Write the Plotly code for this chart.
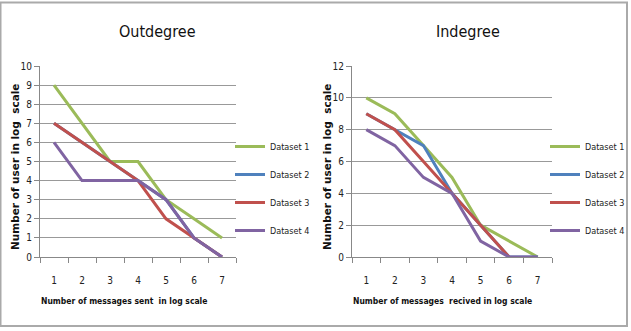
import plotly.graph_objects as go

x_vals = [1, 2, 3, 4, 5, 6, 7]
series_names = ["Dataset 1", "Dataset 2", "Dataset 3", "Dataset 4"]
colors = ["#9BBB59", "#4F81BD", "#C0504D", "#8064A2"]

out_d1 = [9, 7, 5, 5, 3, 2, 1]
out_d2 = [7, 6, 5, 4, 3, 1, 0]
out_d3 = [7, 6, 5, 4, 2, 1, 0]
out_d4 = [6, 4, 4, 4, 3, 1, 0]

in_d1 = [10, 9, 7, 5, 2, 1, 0]
in_d2 = [9, 8, 7, 4, 2, 0, 0]
in_d3 = [9, 8, 6, 4, 2, 0, None]
in_d4 = [8, 7, 5, 4, 1, 0, 0]

out_series = [out_d1, out_d2, out_d3, out_d4]
in_series = [in_d1, in_d2, in_d3, in_d4]

W, H = 631, 331
NARROW = "Liberation Sans Narrow, DejaVu Sans Condensed, Roboto, sans-serif"
fig = go.Figure()

for i, (name, ys) in enumerate(zip(series_names, out_series)):
    fig.add_trace(go.Scatter(x=x_vals, y=ys, mode="lines", name=name,
                             line=dict(color=colors[i], width=3),
                             xaxis="x", yaxis="y", legend="legend",
                             legendgroup="o" + str(i)))
for i, (name, ys) in enumerate(zip(series_names, in_series)):
    fig.add_trace(go.Scatter(x=x_vals, y=ys, mode="lines", name=name,
                             line=dict(color=colors[i], width=3),
                             xaxis="x2", yaxis="y2", legend="legend2",
                             legendgroup="i" + str(i)))

tick_font = dict(family=NARROW, size=10, color="#222")
common_x = dict(range=[0.5, 7.5], tickvals=x_vals, ticks="", showgrid=False,
                showline=True, linecolor="#888", linewidth=1, zeroline=False,
                tickfont=tick_font, ticklabelstandoff=14,
                minor=dict(tick0=0.5, dtick=1, ticks="outside", ticklen=5,
                           tickcolor="#888", showgrid=False))
common_y = dict(showgrid=True, gridcolor="#999", gridwidth=1, showline=True,
                linecolor="#888", linewidth=1, zeroline=False, ticks="outside",
                ticklen=5, tickcolor="#888", tickfont=tick_font)

y0, y1 = 1 - 257 / H, 1 - 66 / H
legend_common = dict(font=dict(family=NARROW, size=9, color="#222"),
                     bgcolor="rgba(0,0,0,0)", tracegroupgap=9, itemwidth=30,
                     xanchor="left", yanchor="top")

fig.update_layout(
    width=W, height=H, margin=dict(l=0, r=0, t=0, b=0, autoexpand=False),
    paper_bgcolor="white", plot_bgcolor="white",
    xaxis=dict(domain=[40 / W, 236 / W], anchor="y", **common_x),
    yaxis=dict(domain=[y0, y1], anchor="x", range=[0, 10], dtick=1, **common_y),
    xaxis2=dict(domain=[352 / W, 552 / W], anchor="y2", **common_x),
    yaxis2=dict(domain=[y0, y1], anchor="x2", range=[0, 12], dtick=2, **common_y),
    legend=dict(x=230 / W, y=1 - 132 / H, **legend_common),
    legend2=dict(x=545 / W, y=1 - 132 / H, **legend_common),
    showlegend=True,
)

title_font = dict(family=NARROW, size=16, color="#111")
axis_title_font = dict(family=NARROW, size=8.5, color="#111")
ytitle_font = dict(family="DejaVu Sans", size=10.5, color="#111")

annotations = [
    dict(text="Outdegree", x=157 / W, y=1 - 31 / H, font=title_font),
    dict(text="Indegree", x=468 / W, y=1 - 31 / H, font=title_font),
    dict(text="<b>Number of messages sent  in log scale</b>", x=124 / W, y=1 - 301 / H, font=axis_title_font),
    dict(text="<b>Number of messages  recived in log scale</b>", x=442 / W, y=1 - 301 / H, font=axis_title_font),
    dict(text="<b>Number of user in log  scale</b>", x=15 / W, y=1 - 167 / H, textangle=-90, font=ytitle_font),
    dict(text="<b>Number of user in log  scale</b>", x=327 / W, y=1 - 167 / H, textangle=-90, font=ytitle_font),
]
for a in annotations:
    fig.add_annotation(xref="paper", yref="paper", showarrow=False,
                       xanchor="center", yanchor="middle", **a)

fig.add_shape(type="rect", xref="paper", yref="paper",
              x0=0.5 / W, x1=627 / W, y0=1 - 326 / H, y1=1 - 2.5 / H,
              line=dict(color="#AAAAAA", width=2), fillcolor="rgba(0,0,0,0)", layer="below")

fig.write_html("out.html")
